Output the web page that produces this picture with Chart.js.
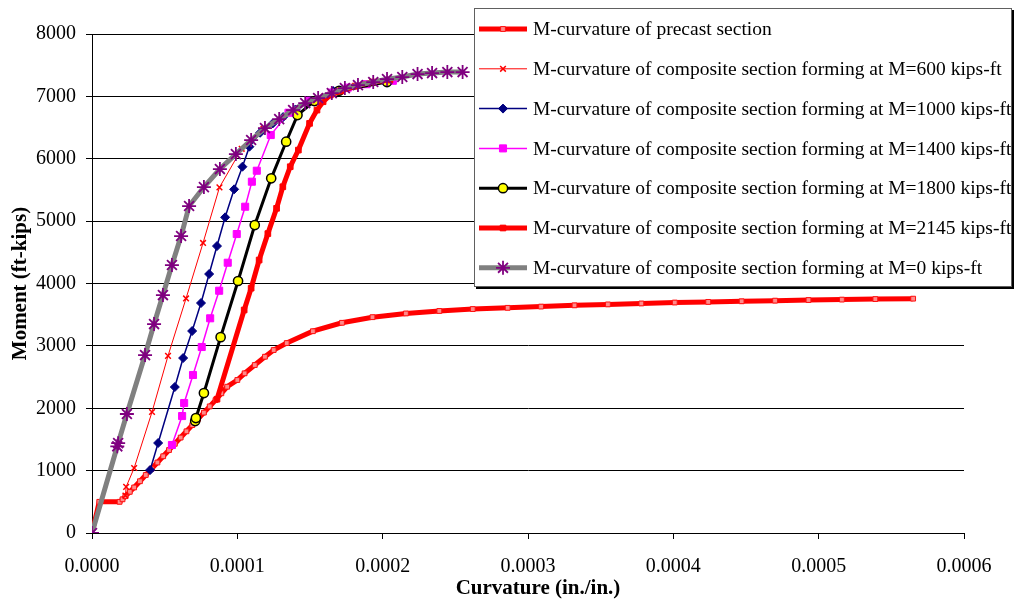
<!DOCTYPE html>
<html>
<head>
<meta charset="utf-8">
<script src="https://cdn.jsdelivr.net/npm/chart.js@4.4.1/dist/chart.umd.min.js"></script>
<style>
  html, body { margin: 0; padding: 0; background: #fff; }
  canvas { display: block; }
</style>
</head>
<body>
<canvas id="mcChart" width="1016" height="600"></canvas>
<script>
// curvature values are in 1e-6 in./in., moments in ft-kips
const seriesLabels = [
  "M-curvature of precast section",
  "M-curvature of composite section forming at M=600 kips-ft",
  "M-curvature of composite section forming at M=1000 kips-ft",
  "M-curvature of composite section forming at M=1400 kips-ft",
  "M-curvature of composite section forming at M=1800 kips-ft",
  "M-curvature of composite section forming at M=2145 kips-ft",
  "M-curvature of composite section forming at M=0 kips-ft",
];

const precastCurv = [0, 5, 19, 21, 23, 26, 29, 33, 37, 41, 45, 49, 53, 57, 61, 65, 69, 73, 77, 81, 85, 89, 93,
  100, 105, 112, 119, 125, 134, 152, 172, 193, 216, 239, 262, 286, 309, 332, 355, 378, 401, 424, 447, 470, 493, 516, 539, 565];
const precastMom = [0, 500, 500, 540, 590, 660, 730, 830, 930, 1030, 1130, 1230, 1330, 1430, 1530, 1630, 1730, 1830, 1930, 2030, 2130, 2240, 2345,
  2453, 2560, 2693, 2826, 2933, 3045, 3235, 3370, 3460, 3520, 3560, 3590, 3610, 3630, 3650, 3665, 3680, 3695, 3705, 3715, 3725, 3735, 3742, 3750, 3757];

const m600Curv = [23, 23.5, 29, 41.3, 52.3, 64.7, 76.4, 87.7, 103, 118, 135, 160, 203];
const m600Mom = [600, 740, 1042, 1940, 2840, 3760, 4650, 5541, 6160, 6480, 6740, 7000, 7240];

const m1000Curv = [40, 45.5, 57, 62.7, 68.9, 75, 80.6, 86, 91.6, 97.8, 103.5, 108.3, 115.7, 124.4, 131.5, 140, 150, 166, 203];
const m1000Mom = [1010, 1443, 2340, 2805, 3238, 3687, 4152, 4600, 5061, 5510, 5872, 6193, 6417, 6567, 6668, 6790, 6925, 7085, 7229];

const m1400Curv = [55, 62, 63.4, 69.5, 75.5, 81.3, 87.5, 93.4, 99.6, 105.4, 110, 113.4, 123, 135.2, 150, 165, 176, 189, 207];
const m1400Mom = [1411, 1875, 2084, 2533, 2982, 3442, 3884, 4333, 4793, 5231, 5632, 5808, 6380, 6738, 6930, 7060, 7140, 7195, 7250];

const m1800Curv = [71, 71.5, 77, 88.5, 100.5, 112, 123.3, 133.6, 141.4, 153, 170, 203];
const m1800Mom = [1795, 1843, 2244, 3140, 4040, 4937, 5686, 6273, 6700, 6925, 7090, 7230];

const m2145Curv = [86, 104.7, 109.5, 115, 121, 127, 131.3, 136.4, 142, 149.7, 154.8, 159, 164, 171, 181, 193, 205];
const m2145Mom = [2145, 3575, 3925, 4376, 4800, 5205, 5551, 5872, 6139, 6567, 6780, 6914, 7021, 7085, 7165, 7230, 7262];

const m0Curv = [0, 17.4, 18, 24, 36.5, 42.7, 48.8, 55, 61.3, 66.8, 77, 88, 99, 109.5, 119, 128.8, 138.4, 146.7, 155.6,
  165, 174, 183, 193.5, 203, 213.5, 224, 234, 244.5, 255];
const m0Mom = [0, 1390, 1440, 1908, 2853, 3350, 3815, 4296, 4761, 5242, 5546, 5835, 6075, 6300, 6492, 6636, 6781, 6893, 6973,
  7053, 7133, 7181, 7230, 7277, 7310, 7358, 7374, 7390, 7390];

const xTicks = [0, 100, 200, 300, 400, 500, 600];
const yTicks = [0, 1000, 2000, 3000, 4000, 5000, 6000, 7000, 8000];

const FONT = "'Liberation Serif', 'Times New Roman', serif";

function pts(xs, ys) {
  return xs.map((x, i) => ({ x: x, y: ys[i] }));
}

const datasets = [
  {
    label: seriesLabels[0],
    data: pts(precastCurv, precastMom),
    borderColor: "#ff0000",
    borderWidth: 5,
    pointStyle: "rect",
    pointRadius: 3.4,
    pointBackgroundColor: "#ff8a8a",
    pointBorderColor: "#ff1010",
    pointBorderWidth: 1,
    order: 6,
  },
  {
    label: seriesLabels[1],
    data: pts(m600Curv, m600Mom),
    borderColor: "#ff0000",
    borderWidth: 1,
    pointStyle: "crossRot",
    pointRadius: 4,
    pointBorderColor: "#ff0000",
    pointBorderWidth: 1.5,
    order: 5,
  },
  {
    label: seriesLabels[2],
    data: pts(m1000Curv, m1000Mom),
    borderColor: "#000080",
    borderWidth: 1.5,
    pointStyle: "rectRot",
    pointRadius: 4.5,
    pointBackgroundColor: "#000080",
    pointBorderColor: "#000080",
    pointBorderWidth: 1,
    order: 4,
  },
  {
    label: seriesLabels[3],
    data: pts(m1400Curv, m1400Mom),
    borderColor: "#ff00ff",
    borderWidth: 1.5,
    pointStyle: "rect",
    pointRadius: 5,
    pointBackgroundColor: "#ff00ff",
    pointBorderColor: "#ff00ff",
    pointBorderWidth: 1,
    order: 3,
  },
  {
    label: seriesLabels[4],
    data: pts(m1800Curv, m1800Mom),
    borderColor: "#000000",
    borderWidth: 3,
    pointStyle: "circle",
    pointRadius: 4.6,
    pointBackgroundColor: "#ffff00",
    pointBorderColor: "#000000",
    pointBorderWidth: 1.5,
    order: 2,
  },
  {
    label: seriesLabels[5],
    data: pts(m2145Curv, m2145Mom),
    borderColor: "#ff0000",
    borderWidth: 5,
    pointStyle: "rect",
    pointRadius: 4,
    pointBackgroundColor: "#ff0000",
    pointBorderColor: "#ff0000",
    pointBorderWidth: 1,
    order: 1,
  },
  {
    label: seriesLabels[6],
    data: pts(m0Curv, m0Mom),
    borderColor: "#808080",
    borderWidth: 5,
    pointStyle: "star",
    pointRadius: 7,
    pointBackgroundColor: "#800080",
    pointBorderColor: "#800080",
    pointBorderWidth: 1.8,
    order: 0,
  },
];

// legend box drawn inside the plot, Excel style
const boxLegend = {
  id: "boxLegend",
  afterDraw(chart) {
    const ctx = chart.ctx;
    const left = 474, top = 8, w = 538, h = 279;
    ctx.save();
    ctx.fillStyle = "#000";
    ctx.fillRect(left + 2, top + 2, w, h);
    ctx.fillStyle = "#fff";
    ctx.fillRect(left, top, w, h);
    ctx.strokeStyle = "#606060";
    ctx.lineWidth = 1;
    ctx.strokeRect(left + 0.5, top + 0.5, w - 1, h - 1);

    const rowGap = 39.8;
    chart.data.datasets.forEach((ds, i) => {
      const cy = top + 21 + i * rowGap;
      ctx.beginPath();
      ctx.strokeStyle = ds.borderColor;
      ctx.lineWidth = ds.borderWidth;
      ctx.moveTo(479, cy);
      ctx.lineTo(527, cy);
      ctx.stroke();
      ctx.fillStyle = ds.pointBackgroundColor || ds.pointBorderColor;
      ctx.strokeStyle = ds.pointBorderColor;
      ctx.lineWidth = ds.pointBorderWidth;
      Chart.helpers.drawPoint(ctx, {
        pointStyle: ds.pointStyle,
        radius: ds.pointRadius,
        rotation: 0,
        borderWidth: ds.pointBorderWidth,
      }, 503, cy);
      ctx.fillStyle = "#000";
      ctx.font = "19.5px " + FONT;
      ctx.textAlign = "left";
      ctx.textBaseline = "middle";
      ctx.fillText(ds.label, 533, cy + 1);
    });

    // axis titles
    const ca = chart.chartArea;
    ctx.font = "bold 21px " + FONT;
    ctx.fillStyle = "#000";
    ctx.textAlign = "center";
    ctx.textBaseline = "middle";
    ctx.fillText("Curvature (in./in.)", (ca.left + ca.right) / 2 + 10, 589);
    ctx.translate(21, (ca.top + ca.bottom) / 2);
    ctx.rotate(-Math.PI / 2);
    ctx.fillText("Moment (ft-kips)", 0, 0);
    ctx.restore();
  },
};

new Chart(document.getElementById("mcChart").getContext("2d"), {
  type: "line",
  data: { datasets: datasets },
  options: {
    responsive: false,
    animation: false,
    events: [],
    elements: { line: { tension: 0, fill: false } },
    layout: { padding: { left: 0, top: 34, right: 52, bottom: 0 } },
    plugins: {
      legend: { display: false },
      tooltip: { enabled: false },
    },
    scales: {
      x: {
        type: "linear",
        min: 0,
        max: 600,
        afterBuildTicks(scale) {
          scale.ticks = xTicks.map((v) => ({ value: v }));
        },
        afterFit(scale) {
          scale.height = 67;
        },
        ticks: {
          color: "#000",
          font: { family: FONT, size: 20 },
          padding: 16,
          maxRotation: 0,
          callback: (v) => (v / 1e6).toFixed(4),
        },
        grid: { drawOnChartArea: false, drawTicks: true, tickLength: 6, color: "#000" },
        border: { display: true, color: "#000", width: 1 },
      },
      y: {
        type: "linear",
        min: 0,
        max: 8000,
        afterBuildTicks(scale) {
          scale.ticks = yTicks.map((v) => ({ value: v }));
        },
        afterFit(scale) {
          scale.width = 92;
        },
        ticks: {
          color: "#000",
          font: { family: FONT, size: 20 },
          padding: 10,
          callback: (v) => String(v),
        },
        grid: { color: "#000", lineWidth: 1, tickLength: 6 },
        border: { display: true, color: "#000", width: 1 },
      },
    },
  },
  plugins: [boxLegend],
});
</script>
</body>
</html>
